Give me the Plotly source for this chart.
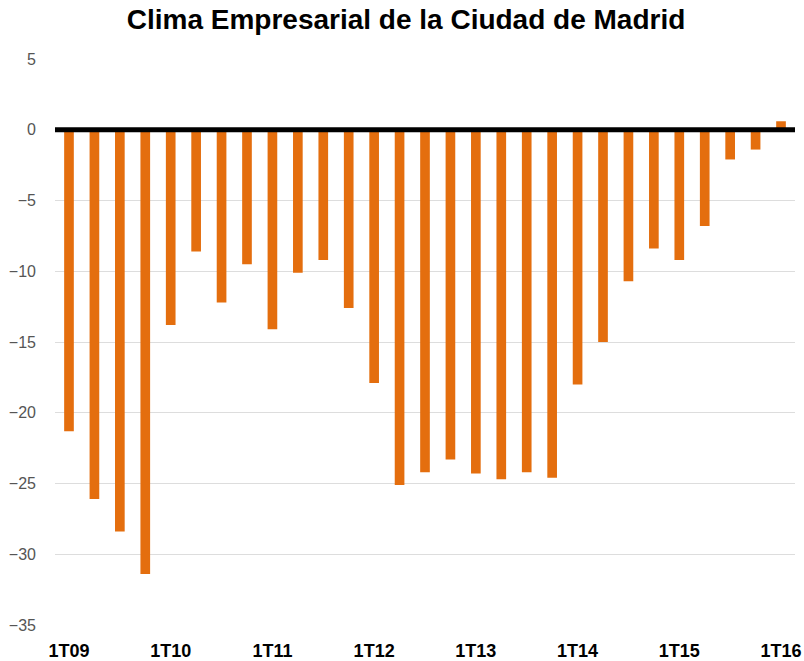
import plotly.graph_objects as go

quarters = ["%dT%02d" % (q, y) for y in range(9, 17) for q in range(1, 5)][:29]
values = [-21.3, -26.1, -28.4, -31.4,
          -13.8, -8.6, -12.2, -9.5,
          -14.1, -10.1, -9.2, -12.6,
          -17.9, -25.1, -24.2, -23.3,
          -24.3, -24.7, -24.2, -24.6,
          -18.0, -15.0, -10.7, -8.4,
          -9.2, -6.8, -2.1, -1.4,
          0.6]
tick_labels = ["1T09", "1T10", "1T11", "1T12", "1T13", "1T14", "1T15", "1T16"]

fig = go.Figure()
fig.add_trace(go.Bar(
    x=list(range(len(quarters))),
    y=values,
    hovertext=quarters,
    marker=dict(color="#E46E0E", line=dict(width=0)),
    width=0.38,
))

fig.update_layout(
    title=dict(text="<b>Clima Empresarial de la Ciudad de Madrid</b>",
               x=0.505, xanchor="center", y=0.971, yanchor="middle",
               font=dict(family="Liberation Sans, Arial", size=28, color="#000")),
    width=804, height=661,
    margin=dict(l=55, r=9, t=59, b=36),
    plot_bgcolor="white", paper_bgcolor="white",
    showlegend=False,
    font=dict(family="Liberation Sans, Arial"),
)

fig.update_xaxes(
    range=[-0.55, 28.55],
    tickvals=[quarters.index(t) for t in tick_labels],
    ticktext=["<b>%s</b>" % t for t in tick_labels],
    tickfont=dict(size=18, color="#000"),
    showgrid=False, zeroline=False, showline=False, ticks="",
    ticklabelstandoff=13, automargin=False,
)
fig.update_yaxes(
    range=[-35, 5],
    dtick=5,
    tickfont=dict(size=16, color="#555"),
    gridcolor="#DDDDDD", gridwidth=1,
    zeroline=False, showline=False, ticks="", ticklabelstandoff=18,
    automargin=False,
)

fig.add_shape(type="line", xref="paper", yref="y", x0=0, x1=1, y0=0, y1=0,
              line=dict(color="#000", width=5), layer="above")

# drop the default page margin so the figure sits at the window origin
fig.write_html("out.html", config={"displayModeBar": False},
               post_script="document.body.style.margin='0';")
